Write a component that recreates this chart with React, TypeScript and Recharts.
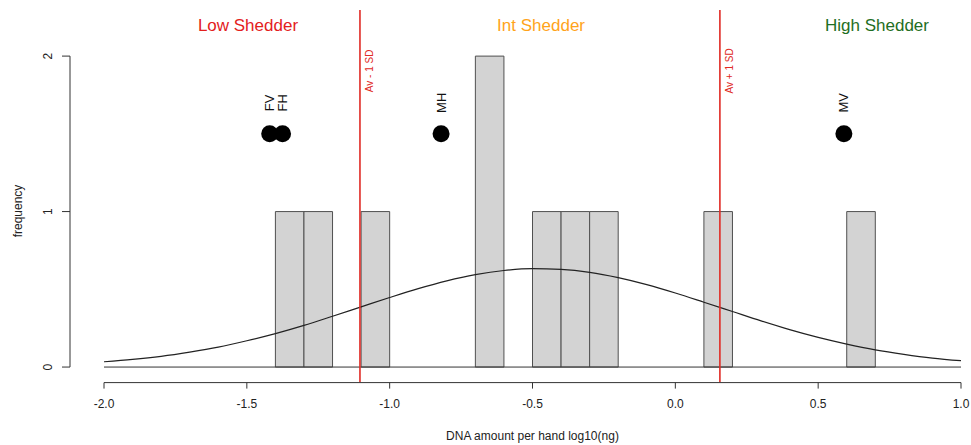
import React from 'react';
import {
  ComposedChart, Line, Scatter, XAxis, YAxis,
  ReferenceArea, ReferenceLine, ReferenceDot
} from 'recharts';

// histogram bins (left edge) and counts
const BIN_WIDTH = 0.1;
const binStarts = [-1.4, -1.3, -1.1, -0.7, -0.5, -0.4, -0.3, 0.1, 0.6];
const binCounts = [1, 1, 1, 2, 1, 1, 1, 1, 1];

// fitted normal curve
const curveX = [
  -2.0, -1.9, -1.8, -1.7, -1.6, -1.5, -1.4, -1.3, -1.2, -1.1, -1.0,
  -0.9, -0.8, -0.7, -0.6, -0.5, -0.4, -0.3, -0.2, -0.1, 0.0,
  0.1, 0.2, 0.3, 0.4, 0.5, 0.6, 0.7, 0.8, 0.9, 1.0
];
const curveDensity = [
  0.034, 0.049, 0.069, 0.096, 0.128, 0.169, 0.215, 0.268, 0.327, 0.387, 0.447,
  0.504, 0.554, 0.594, 0.621, 0.633, 0.628, 0.609, 0.575, 0.530, 0.476,
  0.417, 0.357, 0.297, 0.241, 0.191, 0.148, 0.111, 0.082, 0.058, 0.041
];

// donors
const donorNames = ['FV', 'FH', 'MH', 'MV'];
const donorValues = [-1.42, -1.375, -0.82, 0.59];
const DONOR_LEVEL = 1.5;

// mean -/+ 1 SD
const sdValues = [-1.104, 0.156];
const sdLabels = ['Av - 1 SD', 'Av + 1 SD'];

// shedder classes
const classNames = ['Low Shedder', 'Int Shedder', 'High Shedder'];
const classCentres = [-1.496, -0.47, 0.706];
const classColors = ['#e3201c', '#ffa31a', '#1f6e23'];

const xTicks = [-2.0, -1.5, -1.0, -0.5, 0.0, 0.5, 1.0];
const yTicks = [0, 1, 2];

const FONT = '"Liberation Sans", Arial, sans-serif';
const INK = '#333';
const RED = '#e02a24';

const curveData = curveX.map((x, i) => ({ x, density: curveDensity[i] }));
const donorData = donorNames.map((name, i) => ({ x: donorValues[i], y: DONOR_LEVEL, name }));

const DonorMark = (props: any) => {
  const { cx, cy, payload } = props;
  return (
    <g>
      <circle cx={cx} cy={cy} r={8.5} fill="#000" />
      <text
        x={cx}
        y={cy - 31}
        transform={`rotate(-90 ${cx} ${cy - 31})`}
        textAnchor="middle"
        dominantBaseline="central"
        fontSize={13}
        fontFamily={FONT}
        fill="#111"
      >
        {payload.name}
      </text>
    </g>
  );
};

const YTick = (props: any) => {
  const { y, payload } = props;
  return (
    <g>
      <line x1={62} x2={70} y1={y} y2={y} stroke={INK} />
      <text
        x={48}
        y={y}
        transform={`rotate(-90 48 ${y})`}
        textAnchor="middle"
        dominantBaseline="central"
        fontSize={12}
        fontFamily={FONT}
        fill="#222"
      >
        {payload.value}
      </text>
    </g>
  );
};

export default function App() {
  return (
    <div style={{ position: 'absolute', left: 0, top: 0, background: '#fff' }}>
      <ComposedChart
        width={971}
        height={445}
        data={curveData}
        margin={{ top: 25, right: 10, bottom: 0, left: 0 }}
      >
        <XAxis
          type="number"
          dataKey="x"
          domain={[-2, 1]}
          ticks={xTicks}
          allowDataOverflow
          tickFormatter={(v: number) => v.toFixed(1)}
          height={62.4}
          tickSize={6}
          tickMargin={11}
          stroke={INK}
          tick={{ fontSize: 12, fontFamily: FONT, fill: '#222' }}
          label={{
            value: 'DNA amount per hand log10(ng)',
            position: 'insideBottom',
            offset: 5,
            style: { fontSize: 12, fontFamily: FONT, fill: '#222' }
          }}
        />
        <YAxis
          type="number"
          domain={[-0.1, 2.2]}
          ticks={yTicks}
          allowDataOverflow
          width={104}
          axisLine={false}
          tickLine={false}
          tick={<YTick />}
          label={{
            content: () => (
              <text
                x={18}
                y={211}
                transform="rotate(-90 18 211)"
                textAnchor="middle"
                dominantBaseline="central"
                fontSize={12}
                fontFamily={FONT}
                fill="#222"
              >
                frequency
              </text>
            )
          }}
        />

        {binStarts.map((b, i) => (
          <ReferenceArea
            key={`bin-${i}`}
            x1={b}
            x2={b + BIN_WIDTH}
            y1={0}
            y2={binCounts[i]}
            fill="#d3d3d3"
            fillOpacity={1}
            stroke="#505050"
            strokeWidth={1}
          />
        ))}

        {/* y axis drawn R style, only from 0 to 2 */}
        <ReferenceLine
          segment={[{ x: -2.119, y: 0 }, { x: -2.119, y: 2 }]}
          stroke={INK}
          ifOverflow="visible"
        />
        <ReferenceLine y={0} stroke={INK} />

        <Line
          type="monotone"
          dataKey="density"
          stroke="#222"
          strokeWidth={1.2}
          dot={false}
          isAnimationActive={false}
        />

        {sdValues.map((v, i) => (
          <ReferenceLine
            key={`sd-${i}`}
            segment={[{ x: v, y: -0.096 }, { x: v, y: 2.296 }]}
            stroke={RED}
            strokeWidth={1.6}
            ifOverflow="visible"
          />
        ))}
        {sdValues.map((v, i) => (
          <ReferenceDot
            key={`sdl-${i}`}
            x={v}
            y={1.905}
            ifOverflow="visible"
            shape={(p: any) => (
              <text
                x={p.cx + 9.5}
                y={p.cy}
                transform={`rotate(-90 ${p.cx + 9.5} ${p.cy})`}
                textAnchor="middle"
                dominantBaseline="central"
                fontSize={10}
                fontFamily={FONT}
                fill={RED}
              >
                {sdLabels[i]}
              </text>
            )}
          />
        ))}

        {classNames.map((name, i) => (
          <ReferenceDot
            key={`cls-${i}`}
            x={classCentres[i]}
            y={2.2}
            ifOverflow="visible"
            shape={(p: any) => (
              <text
                x={p.cx}
                y={p.cy + 6}
                textAnchor="middle"
                fontSize={17}
                fontFamily={FONT}
                fill={classColors[i]}
              >
                {name}
              </text>
            )}
          />
        ))}

        <Scatter
          data={donorData}
          dataKey="y"
          shape={<DonorMark />}
          isAnimationActive={false}
        />
      </ComposedChart>
    </div>
  );
}
